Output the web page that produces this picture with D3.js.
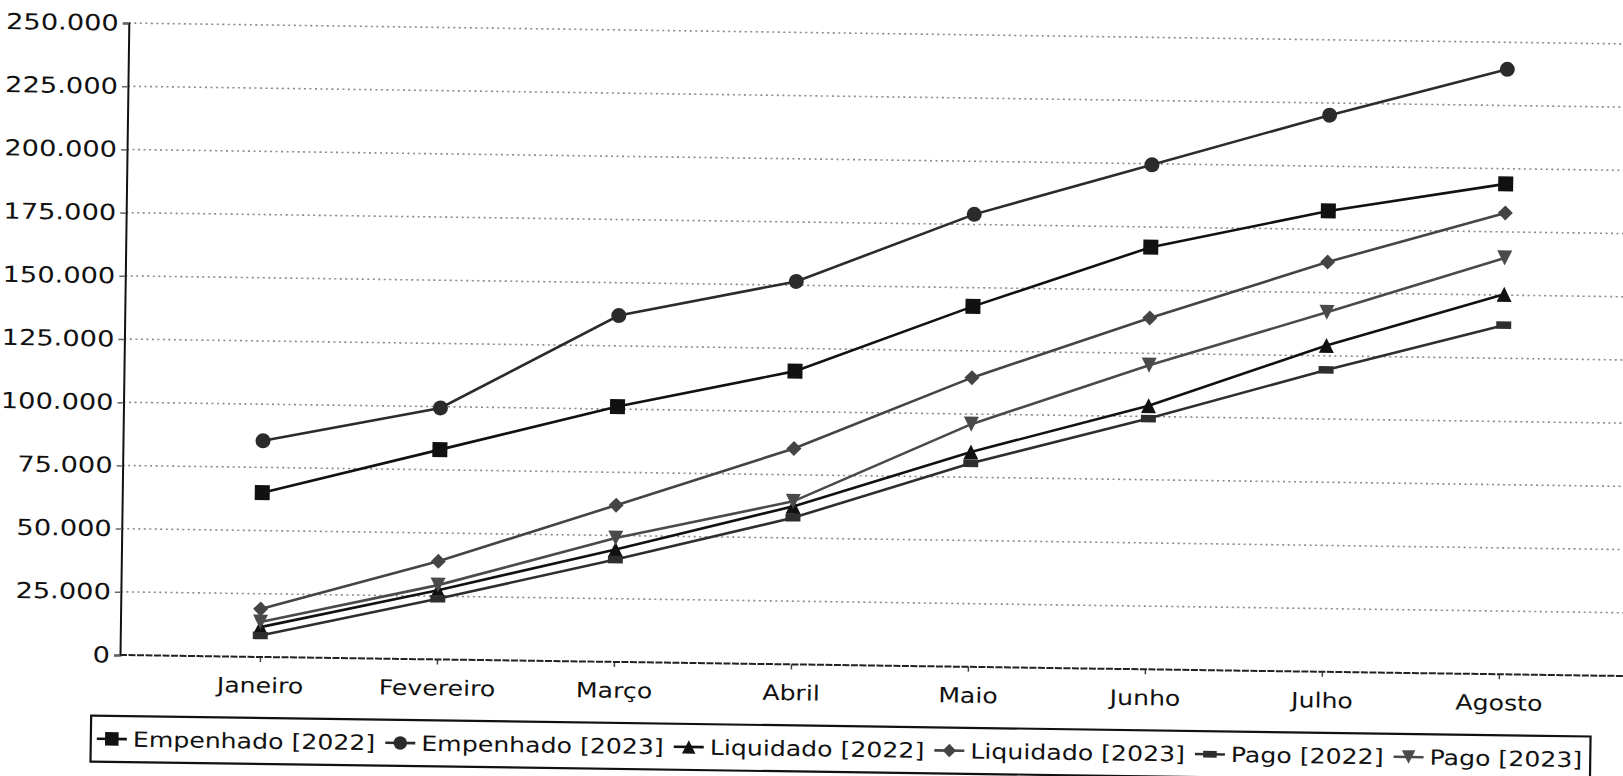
<!DOCTYPE html>
<html lang="pt">
<head>
  <meta charset="UTF-8">
  <title>Empenhado / Liquidado / Pago</title>
  <script src="https://d3js.org/d3.v7.min.js"></script>
  <style>
    body { margin: 0; background: #fff; overflow: hidden; }
    text { font-family: "DejaVu Sans", sans-serif; fill: #111; }
  </style>
</head>
<body>
<script>
  const WIDTH = 1623;
  const HEIGHT = 776;

  // data
  const months = ['Janeiro', 'Fevereiro', 'Março', 'Abril', 'Maio', 'Junho', 'Julho', 'Agosto'];
  const empenhado2022 = [65000, 83000, 101000, 116000, 142600, 167000, 182300, 194000];
  const empenhado2023 = [85500, 99500, 137000, 151500, 179000, 199600, 220200, 239300];
  const liquidado2022 = [11800, 27400, 44500, 62500, 85000, 104300, 129100, 150300];
  const liquidado2023 = [19000, 38800, 62000, 85400, 114400, 139000, 162100, 182500];
  const pago2022 = [8500, 24000, 40500, 58000, 80500, 99200, 119400, 138100];
  const pago2023 = [13800, 29400, 49000, 64500, 96000, 120300, 142200, 164700];
  const yTicks = [0, 25000, 50000, 75000, 100000, 125000, 150000, 175000, 200000, 225000, 250000];

  const series = [
    { name: 'Empenhado [2022]', values: empenhado2022, shape: 'square', color: '#111' },
    { name: 'Empenhado [2023]', values: empenhado2023, shape: 'circle', color: '#2b2b2b' },
    { name: 'Liquidado [2022]', values: liquidado2022, shape: 'up', color: '#111' },
    { name: 'Liquidado [2023]', values: liquidado2023, shape: 'diamond', color: '#444' },
    { name: 'Pago [2022]', values: pago2022, shape: 'rect', color: '#2e2e2e' },
    { name: 'Pago [2023]', values: pago2023, shape: 'down', color: '#4a4a4a' }
  ];

  const S = 7.5;
  const shapes = {
    square: `M${-S},${-S}h${2 * S}v${2 * S}h${-2 * S}Z`,
    circle: d3.symbol(d3.symbolCircle, Math.PI * S * S)(),
    up: `M0,${-S}L${S},${S}L${-S},${S}Z`,
    diamond: `M0,${-S}L${S},0L0,${S}L${-S},0Z`,
    rect: `M${-S},${-S / 2}h${2 * S}v${S}h${-2 * S}Z`,
    down: `M0,${S}L${S},${-S}L${-S},${-S}Z`
  };

  // the lettering in the scan is wider than the font
  const SX = 1.2;
  const SX_Y = 1.24;
  const FONT = 21;
  const FONT_Y = 22;
  const plotLeft = 120, plotBottom = 655, plotTop = 23;

  const ptBR = d3.formatLocale({ decimal: ',', thousands: '.', grouping: [3], currency: ['R$', ''] });
  const fmt = ptBR.format(',d');

  const x = d3.scalePoint().domain(months).range([260, 1499]);
  const y = d3.scaleLinear().domain([0, 250000]).range([plotBottom, plotTop]);

  const svg = d3.select('body').append('svg')
    .attr('width', WIDTH)
    .attr('height', HEIGHT);

  svg.append('rect').attr('width', WIDTH).attr('height', HEIGHT).attr('fill', '#fff');

  // the scan is turned a little clockwise
  const g = svg.append('g').attr('transform', `rotate(0.8, ${plotLeft}, ${plotBottom})`);

  // gridlines
  g.append('g')
    .selectAll('line')
    .data(yTicks.slice(1))
    .enter()
    .append('line')
    .attr('x1', plotLeft).attr('x2', 1720)
    .attr('y1', d => y(d)).attr('y2', d => y(d))
    .attr('stroke', '#8a8a8a')
    .attr('stroke-width', 1.6)
    .attr('stroke-dasharray', '2,3.5');

  // y axis
  const yAxis = d3.axisLeft(y).tickValues(yTicks).tickFormat(fmt).tickSize(6).tickPadding(4);
  const yg = g.append('g').attr('transform', `translate(${plotLeft},0)`).call(yAxis);
  yg.select('.domain').attr('stroke', '#111').attr('stroke-width', 2);
  yg.selectAll('.tick line').attr('stroke', '#666').attr('stroke-width', 1.5);
  yg.selectAll('text')
    .attr('font-size', FONT_Y)
    .attr('font-family', 'DejaVu Sans')
    .attr('fill', '#111')
    .attr('x', -10 / SX_Y)
    .attr('transform', `scale(${SX_Y},1)`);

  // x axis
  const xAxis = d3.axisBottom(x).tickSize(5).tickPadding(16);
  const xg = g.append('g').attr('transform', `translate(0,${plotBottom})`).call(xAxis);
  xg.select('.domain').remove();
  xg.append('line')
    .attr('x1', plotLeft).attr('x2', 1720)
    .attr('stroke', '#222').attr('stroke-width', 2)
    .attr('stroke-dasharray', '7,1.5');
  xg.selectAll('.tick line').attr('stroke', '#444').attr('stroke-width', 1.5);
  xg.selectAll('text')
    .attr('font-size', FONT)
    .attr('font-family', 'DejaVu Sans')
    .attr('fill', '#111')
    .attr('x', 0)
    .attr('transform', `scale(${SX},1)`);

  // lines and markers
  const line = d3.line().x((d, i) => x(months[i])).y(d => y(d));

  series.forEach(s => {
    g.append('path')
      .datum(s.values)
      .attr('d', line)
      .attr('fill', 'none')
      .attr('stroke', s.color)
      .attr('stroke-width', 2.6);
    g.append('g')
      .selectAll('path')
      .data(s.values)
      .enter()
      .append('path')
      .attr('d', shapes[s.shape])
      .attr('transform', (d, i) => `translate(${x(months[i])},${y(d)})`)
      .attr('fill', s.color);
  });

  // legend
  const lg = g.append('g').attr('transform', 'translate(92,716)');
  const box = lg.append('rect')
    .attr('height', 46)
    .attr('fill', '#fff')
    .attr('stroke', '#111')
    .attr('stroke-width', 2.2);
  let cx = 6;
  series.forEach(s => {
    const item = lg.append('g').attr('transform', `translate(${cx},23)`);
    item.append('line').attr('x1', 0).attr('x2', 30)
      .attr('stroke', s.color).attr('stroke-width', 2.6);
    item.append('path').attr('d', shapes[s.shape])
      .attr('transform', 'translate(15,0) scale(0.9)')
      .attr('fill', s.color);
    const t = item.append('text')
      .attr('x', 0)
      .attr('dy', '0.36em')
      .attr('font-size', FONT)
      .attr('transform', `translate(36,0) scale(${SX},1)`)
      .text(s.name);
    cx += 36 + t.node().getComputedTextLength() * SX + 10;
  });
  box.attr('width', cx - 2);
</script>
</body>
</html>
